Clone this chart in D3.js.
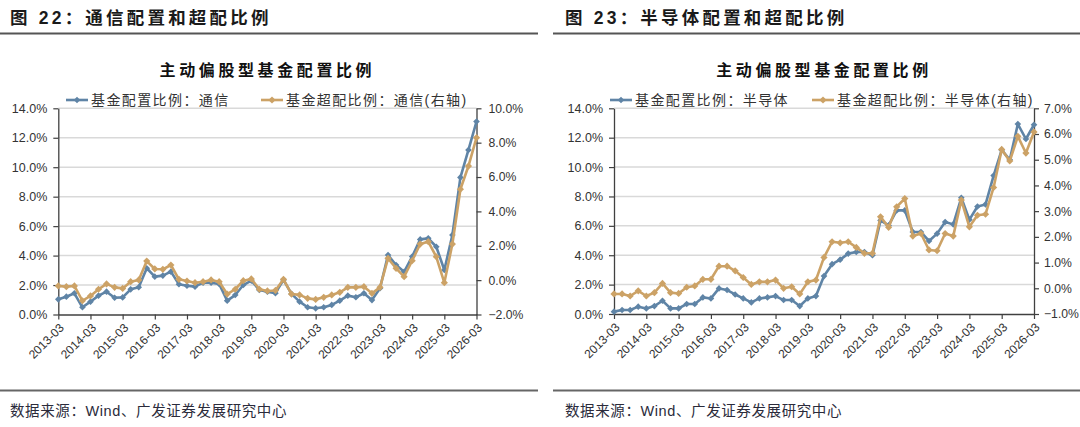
<!DOCTYPE html>
<html><head><meta charset="utf-8">
<script src="https://cdn.jsdelivr.net/npm/d3@7"></script>
<style>body{margin:0;background:#fff} svg{display:block}</style>
</head><body><svg id="c" width="1080" height="427"></svg>
<script>
// ---------- data ----------
const quarters = [];
for (let y = 2013; y <= 2026; y++) {
  for (const m of ["03", "06", "09", "12"]) {
    if (y === 2026 && m !== "03") break;
    quarters.push(y + "-" + m);
  }
}
const yearTicks = ["2013-03","2014-03","2015-03","2016-03","2017-03","2018-03","2019-03",
  "2020-03","2021-03","2022-03","2023-03","2024-03","2025-03","2026-03"];

// 图22 通信
const commAlloc = [1.03,1.21,1.44,0.49,0.87,1.28,1.55,1.14,1.16,1.71,1.85,
  3.14,2.57,2.64,2.91,2.05,1.95,1.89,2.16,2.16,2.07,
  0.94,1.32,2.00,2.30,1.66,1.55,1.45,2.35,1.40,0.87,
  0.49,0.42,0.49,0.65,0.94,1.28,1.17,1.44,0.98,1.78,
  4.04,3.36,2.90,3.93,5.10,5.17,4.60,3.02,5.40,9.31,11.17,13.10];
const commOver = [-0.34,-0.38,-0.34,-1.20,-0.92,-0.53,-0.22,-0.42,-0.48,-0.09,0.01,
  1.11,0.65,0.63,0.88,0.05,-0.05,-0.15,-0.09,0.01,-0.09,
  -0.81,-0.53,-0.03,0.07,-0.53,-0.63,-0.60,0.05,-0.81,-0.86,
  -1.06,-1.12,-1.00,-0.86,-0.71,-0.42,-0.42,-0.38,-0.77,-0.42,
  1.27,0.69,0.20,1.13,2.10,2.24,1.36,-0.15,2.10,5.29,6.64,8.29];

// 图23 半导体
const semiAlloc = [0.16,0.27,0.27,0.50,0.38,0.54,0.90,0.38,0.38,0.68,0.68,
  1.13,1.06,1.74,1.63,1.33,1.06,0.79,1.06,1.13,1.22,
  0.95,0.95,0.54,1.06,1.22,2.58,3.39,3.70,4.11,4.22,
  4.22,4.00,6.37,6.03,7.05,7.05,5.58,5.58,4.97,5.47,
  6.26,6.10,7.91,6.42,7.32,7.46,9.42,11.17,10.49,12.93,11.91,12.88];
const semiOver = [-0.22,-0.22,-0.30,-0.10,-0.30,-0.17,0.19,-0.17,-0.20,0.04,0.09,
  0.35,0.35,0.86,0.86,0.68,0.42,0.15,0.25,0.25,0.32,
  0.00,0.06,-0.22,0.25,0.32,1.20,1.81,1.77,1.81,1.59,
  1.36,1.36,2.78,2.37,3.17,3.49,2.03,2.13,1.49,1.46,
  2.13,2.03,3.43,2.39,2.84,2.88,3.92,5.40,4.95,5.91,5.26,6.08];

const leftTicks = [0,2,4,6,8,10,12,14];
const commRightTicks = [-2,0,2,4,6,8,10];
const semiRightTicks = [-1,0,1,2,3,4,5,6,7];

// ---------- style ----------
const BLUE = "#5F84A6", GOLD = "#CCA266";
const svg = d3.select("#c");
svg.append("rect").attr("width",1080).attr("height",427).attr("fill","#fff");
const fmt = d => d3.format(".1f")(d) + "%";
const CJK = "'Noto Sans CJK SC', 'Noto Sans', sans-serif";
const LAT = "'Liberation Sans', Arial, 'Noto Sans CJK SC', sans-serif";

function drawPanel(cfg) {
  const g = svg.append("g");
  // header
  g.append("text").attr("x", cfg.titleX).attr("y", 24)
    .attr("font-family", LAT).attr("font-weight", "bold").attr("font-size", 17.5)
    .attr("fill", "#1a1a1a").attr("letter-spacing", 3.2).text(cfg.title);
  g.append("line").attr("x1", cfg.lx0).attr("x2", cfg.lx1).attr("y1", 33.5).attr("y2", 33.5)
    .attr("stroke", "#555").attr("stroke-width", 2);
  g.append("line").attr("x1", cfg.lx0).attr("x2", cfg.lx1).attr("y1", 390.5).attr("y2", 390.5)
    .attr("stroke", "#666").attr("stroke-width", 2);
  g.append("text").attr("x", cfg.titleX).attr("y", 416)
    .attr("font-family", LAT).attr("font-size", 14.5).attr("fill", "#2b2b3b")
    .attr("letter-spacing", 0.6).text("数据来源：Wind、广发证券发展研究中心");

  const x = d3.scalePoint().domain(quarters).range([cfg.x0, cfg.x1]);
  const yL = d3.scaleLinear().domain([0, 14]).range([cfg.yBot, cfg.yTop]);
  const yR = d3.scaleLinear().domain(cfg.rDomain).range([cfg.yBot, cfg.yTop]);

  // chart title
  g.append("text").attr("x", (cfg.x0 + cfg.x1) / 2).attr("y", 76).attr("text-anchor", "middle")
    .attr("font-family", CJK).attr("font-weight", "bold").attr("font-size", 16)
    .attr("letter-spacing", 3.6).attr("fill", "#111").text("主动偏股型基金配置比例");

  // grid
  g.append("g").selectAll("line").data(leftTicks.filter(d => d > 0)).join("line")
    .attr("x1", cfg.x0).attr("x2", cfg.x1).attr("y1", d => yL(d)).attr("y2", d => yL(d))
    .attr("stroke", "#D9D9D9").attr("stroke-width", 1.5);

  const styleAxis = (sel, fs) => {
    sel.selectAll("path").attr("stroke", "#404040").attr("stroke-width", 1.3);
    sel.selectAll(".tick line").attr("stroke", "#404040").attr("stroke-width", 1.2);
    sel.selectAll("text").attr("font-family", LAT).attr("font-size", fs).attr("fill", "#333");
  };
  // left axis
  const aL = g.append("g").attr("transform", `translate(${cfg.x0},0)`)
    .call(d3.axisLeft(yL).tickValues(leftTicks).tickFormat(fmt).tickSize(5).tickSizeOuter(0).tickPadding(6));
  styleAxis(aL, 12.5);
  // right axis
  const aR = g.append("g").attr("transform", `translate(${cfg.x1},0)`)
    .call(d3.axisRight(yR).tickValues(cfg.rTicks).tickFormat(fmt).tickSize(5).tickSizeOuter(0).tickPadding(cfg.rPad));
  styleAxis(aR, 12.2);
  // bottom axis
  const aB = g.append("g").attr("transform", `translate(0,${cfg.yBot})`)
    .call(d3.axisBottom(x).tickValues(yearTicks).tickSize(5).tickSizeOuter(0));
  styleAxis(aB, 12);
  aB.selectAll("text").attr("y", 0).attr("dy", "0.35em")
    .attr("text-anchor", "end").attr("transform", "translate(3,11) rotate(-45)");

  // series
  const series = [
    {vals: cfg.a, y: yL, color: BLUE, size: 22},
    {vals: cfg.o, y: yR, color: GOLD, size: 26}
  ];
  const sq = d3.symbol().type(d3.symbolSquare);
  series.forEach(s => {
    const line = d3.line().x((d, i) => x(quarters[i])).y(d => s.y(d));
    g.append("path").datum(s.vals).attr("d", line).attr("fill", "none")
      .attr("stroke", s.color).attr("stroke-width", 2.6).attr("stroke-linejoin", "round");
    g.append("g").selectAll("path").data(s.vals).join("path")
      .attr("d", sq.size(s.size)())
      .attr("transform", (d, i) => `translate(${x(quarters[i])},${s.y(d)}) rotate(45)`)
      .attr("fill", s.color);
  });

  // legend
  cfg.legend.forEach((L, k) => {
    const c = k === 0 ? BLUE : GOLD;
    g.append("line").attr("x1", L.lx).attr("x2", L.lx + 22).attr("y1", 100).attr("y2", 100)
      .attr("stroke", c).attr("stroke-width", 2.6);
    g.append("path").attr("d", sq.size(k === 0 ? 22 : 26)())
      .attr("transform", `translate(${L.lx + 11},100) rotate(45)`).attr("fill", c);
    g.append("text").attr("x", L.lx + 25).attr("y", 105).attr("font-family", LAT)
      .attr("font-size", 14).attr("letter-spacing", 1.4).attr("fill", "#333").text(L.text);
  });
}

drawPanel({
  title: "图 22：通信配置和超配比例", titleX: 10, lx0: 0, lx1: 538,
  x0: 58.3, x1: 476.5, yTop: 108.3, yBot: 314.5, rPad: 7,
  rDomain: [-2, 10], rTicks: commRightTicks, a: commAlloc, o: commOver,
  legend: [{lx: 66, text: "基金配置比例：通信"}, {lx: 261, text: "基金超配比例：通信(右轴)"}]
});
drawPanel({
  title: "图 23：半导体配置和超配比例", titleX: 565, lx0: 553, lx1: 1080,
  x0: 614, x1: 1034, yTop: 108.3, yBot: 314, rPad: 5,
  rDomain: [-1, 7], rTicks: semiRightTicks, a: semiAlloc, o: semiOver,
  legend: [{lx: 610, text: "基金配置比例：半导体"}, {lx: 812, text: "基金超配比例：半导体(右轴)"}]
});
</script></body></html>
